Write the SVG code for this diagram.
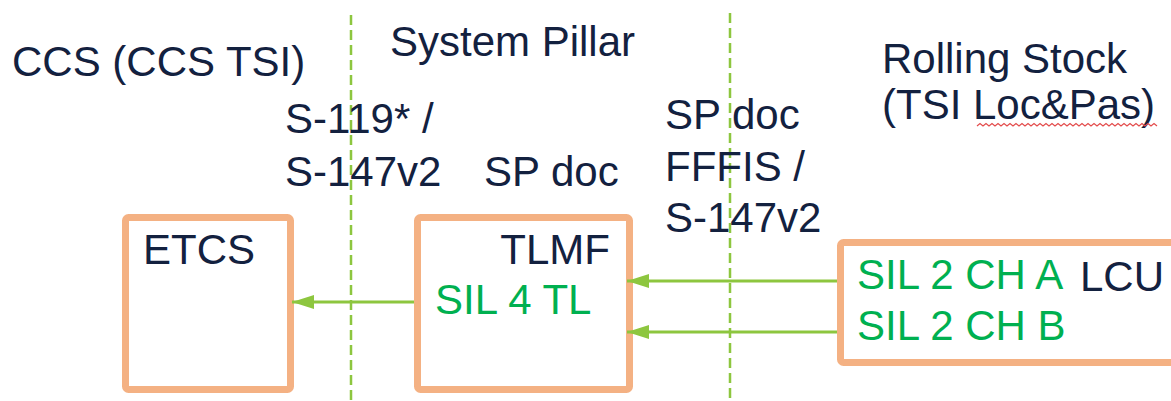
<svg xmlns="http://www.w3.org/2000/svg" width="1171" height="401" viewBox="0 0 1171 401">
  <style>
    .t { font-family: "Liberation Sans", Arial, sans-serif; font-size: 42px; fill: #13213f; }
    .g { fill: #00b050; }
    .box { fill: #ffffff; stroke: #f4b183; stroke-width: 7; }
    .div { stroke: #8dc63f; stroke-width: 2.5; stroke-dasharray: 10 5; fill: none; }
    .flow { stroke: #8dc63f; stroke-width: 3; fill: none; marker-end: url(#head); }
  </style>
  <defs>
    <marker id="head" markerUnits="userSpaceOnUse" markerWidth="24" markerHeight="14" refX="22" refY="7" orient="auto">
      <path d="M0,0 L22,7 L0,14 Z" fill="#8dc63f"/>
    </marker>
  </defs>
  <rect width="1171" height="401" fill="#ffffff"/>

  <!-- domain boundaries -->
  <g id="boundaries">
    <line class="div" x1="351" y1="15" x2="351" y2="401"/>
    <line class="div" x1="730" y1="13" x2="730" y2="401"/>
  </g>

  <!-- domain headings and interface labels -->
  <g id="labels">
    <text class="t" x="12" y="76">CCS (CCS TSI)</text>
    <text class="t" x="390" y="56">System Pillar</text>
    <text class="t" x="882" y="73">Rolling Stock</text>
    <text class="t" x="882" y="119">(TSI Loc&amp;Pas)</text>
    <path d="M977,126 l3,-2.5 l3,2.5 l3,-2.5 l3,2.5 l3,-2.5 l3,2.5 l3,-2.5 l3,2.5 l3,-2.5 l3,2.5 l3,-2.5 l3,2.5 l3,-2.5 l3,2.5 l3,-2.5 l3,2.5 l3,-2.5 l3,2.5 l3,-2.5 l3,2.5 l3,-2.5 l3,2.5 l3,-2.5 l3,2.5 l3,-2.5 l3,2.5 l3,-2.5 l3,2.5 l3,-2.5 l3,2.5 l3,-2.5 l3,2.5 l3,-2.5 l3,2.5 l3,-2.5 l3,2.5 l3,-2.5 l3,2.5 l3,-2.5 l3,2.5 l3,-2.5 l3,2.5 l3,-2.5 l3,2.5 l3,-2.5 l3,2.5 l3,-2.5 l3,2.5 l3,-2.5 l3,2.5 l3,-2.5 l3,2.5 l3,-2.5 l3,2.5 l3,-2.5 l3,2.5 l3,-2.5 l3,2.5 l3,-2.5 l3,2.5" fill="none" stroke="#e34b4b" stroke-width="1.2"/>
    <text class="t" x="285" y="133">S-119* /</text>
    <text class="t" x="285" y="186">S-147v2</text>
    <text class="t" x="484" y="186">SP doc</text>
    <text class="t" x="665" y="129">SP doc</text>
    <text class="t" x="665" y="181">FFFIS /</text>
    <text class="t" x="665" y="232">S-147v2</text>
  </g>

  <g id="etcs">
    <rect class="box" x="125.5" y="217.5" width="165" height="172" rx="3"/>
    <text class="t" x="143" y="264">ETCS</text>
  </g>

  <g id="tlmf">
    <rect class="box" x="417.5" y="217.5" width="212" height="172" rx="3"/>
    <text class="t" x="610" y="264" text-anchor="end">TLMF</text>
    <text class="t g" x="435" y="314">SIL 4 TL</text>
  </g>

  <g id="lcu">
    <rect class="box" x="840.5" y="242.5" width="345" height="120" rx="3"/>
    <text class="t g" x="857" y="289">SIL 2 CH A</text>
    <text class="t" x="1080" y="291">LCU</text>
    <text class="t g" x="857" y="340">SIL 2 CH B</text>
  </g>

  <g id="connectors">
    <line class="flow" x1="414" y1="302" x2="292" y2="302"/>
    <line class="flow" x1="837" y1="281" x2="627" y2="281"/>
    <line class="flow" x1="837" y1="332" x2="627" y2="332"/>
  </g>
</svg>
